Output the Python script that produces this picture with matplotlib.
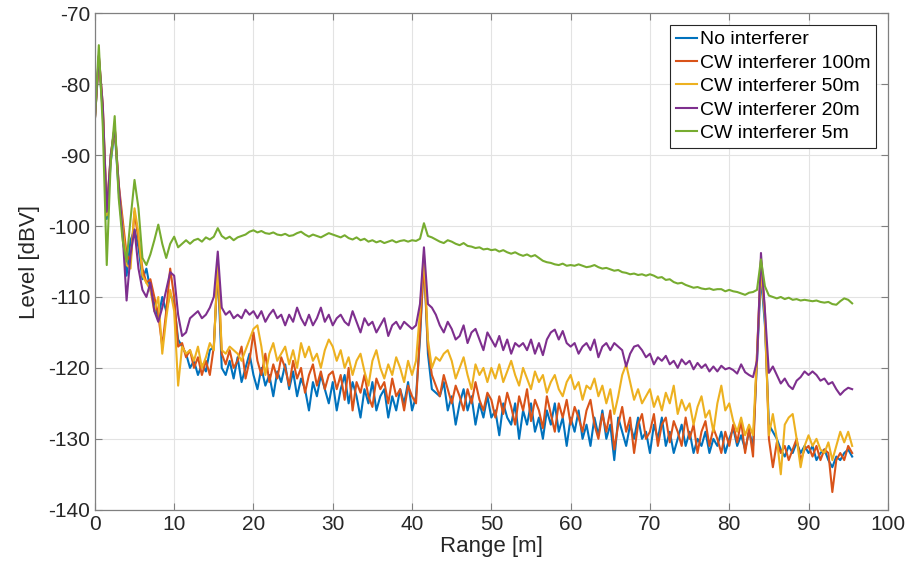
import numpy as np
import matplotlib
matplotlib.use("Agg")
import matplotlib.pyplot as plt

plt.rcParams["axes.unicode_minus"] = False

# range bins, 0.5 m spacing
range_m = np.arange(0, 96, 0.5)

no_interf = [
    -85, -76.5, -84, -99, -91, -86.5, -95, -101, -107, -102, -100.5, -103, -107.5, -106, -109, -111, -113, -110, -112, -109.5,
    -111, -116, -117, -118, -120, -119, -121, -119.5, -120.5, -117.5, -117, -106, -120, -121, -119, -121.5, -118.5, -122, -120, -118,
    -121, -123, -120, -122.5, -121, -124, -120.5, -122, -119.5, -123, -120.5, -124, -121.5, -123, -126, -122, -124, -121, -123, -125,
    -122, -126, -123, -121, -125, -122, -124, -127, -123, -125, -122, -126, -124, -123, -127, -124, -126, -123, -125, -122,
    -126, -124, -116, -104.5, -118, -123, -123.5, -124, -122, -126, -124, -128, -125, -123, -126, -124, -128, -125, -127, -124,
    -127, -126, -129.5, -125, -127, -128, -125, -130, -126, -128, -125, -129, -127, -130, -126, -128, -125, -129, -127, -131,
    -127, -129, -126, -130, -128, -131, -127, -129.5, -126, -130, -128, -133, -127, -129, -131, -128, -130, -127, -130, -129,
    -132, -128, -130, -127, -131, -129, -132, -130, -128, -131, -129, -132, -130, -131, -129, -132, -130, -131, -129, -132,
    -130, -128.5, -131, -129.5, -131.5, -129, -131, -119, -107, -114, -128, -129, -130, -131.5, -132.5, -131, -132, -130.5, -132, -131,
    -132, -131, -133, -132, -131.5, -133, -134, -132.5, -133, -132, -131.5, -132.5,
]

cw_100m = [
    -85, -76, -83, -98, -90, -86, -94, -99, -104, -105, -98, -102, -106, -108, -107.5, -110, -112.5, -117, -112, -106,
    -110, -117, -116.5, -118.5, -117.5, -120, -118.5, -121, -119, -121, -117, -105.5, -118, -119.5, -117.5, -120, -119, -117, -121.5, -119,
    -115, -119, -121, -118, -122, -119.5, -121.5, -118.5, -120, -122.5, -119, -121.5, -120, -123.5, -121, -119.5, -122.5, -120.5, -123, -121,
    -120.5, -123, -121, -124.5, -120, -126, -122, -123.5, -121, -124, -125.5, -121.5, -123, -122, -125, -121.5, -124, -123, -126, -122.5,
    -124, -125, -115, -105, -117, -121, -122.5, -124, -121, -123, -125, -122.5, -124, -126, -123, -125, -122, -124.5, -126, -123.5,
    -124.5, -127, -124, -126.5, -123.5, -125.5, -128, -124, -126, -123, -127.5, -124.5, -126, -128.5, -124, -126.5, -129, -125, -127, -124.5,
    -128, -125.5, -127, -129, -126, -124.5, -128, -130, -126.5, -129, -126, -131.5, -128, -125.5, -129, -127, -132, -128, -126.5, -130,
    -129, -126.5, -131, -128, -127, -130.5, -127.5, -129, -131, -127, -130, -128, -132, -129, -127.5, -131, -128.5, -130, -132, -129,
    -131, -128, -130.5, -127.5, -132, -128.5, -132.5, -118, -105, -112, -130, -134, -130.5, -132, -131, -133, -131.5, -130, -133, -131.5,
    -131, -132.5, -131, -133, -131.5, -132, -137.5, -133, -132, -133, -131, -132,
]

cw_50m = [
    -85, -76.5, -83.5, -98.5, -90.5, -86, -94.5, -100, -105.5, -106, -97.5, -101, -107, -108, -109, -112, -110, -118, -113, -109,
    -112, -122.5, -117, -118, -117.5, -119, -117, -120, -118.5, -116.5, -117.5, -104.8, -117.5, -118, -117, -117.5, -118, -119, -117.5, -116,
    -114.5, -114, -117, -121, -118, -116.5, -119, -118, -117, -119.5, -117.5, -120, -116.5, -118.5, -117, -119, -118, -120, -117.5, -116,
    -117, -119, -117.5, -120, -118.5, -121, -119, -118, -120.5, -122.5, -119, -117.5, -120, -121.5, -119.5, -121, -118.5, -120, -122, -119,
    -121, -119, -112, -104, -116, -120, -118.5, -119, -118, -117.5, -119, -121.5, -120, -118.5, -121, -123, -119.5, -121, -120, -122,
    -120, -121.5, -119.5, -122, -120.5, -119, -121, -122.5, -120, -121.5, -123, -120.5, -122, -121, -123.5, -122, -121, -123, -124, -122,
    -121, -123, -122, -124.5, -122.5, -123, -121.5, -124, -122.5, -125, -123, -126.5, -124, -121, -119.5, -122, -124.5, -123, -125, -124,
    -123, -125.5, -124, -126, -123.5, -125, -122.5, -126.5, -124.5, -126, -125, -128, -125.5, -124, -127, -126, -129, -125, -122.5, -126,
    -125, -127.5, -129, -127, -129.5, -128, -129.5, -118, -106, -113, -129.5, -126.5, -130, -135, -128, -127, -126.5, -130, -134, -131,
    -129.5, -131, -130, -131.5, -132, -130.5, -133, -131, -129, -130.5, -129, -131,
]

cw_20m = [
    -85, -76, -83, -98, -90, -86, -94, -101, -110.5, -104, -100.5, -106, -109, -110, -108, -112, -113.5, -111.5, -109, -106.5,
    -107, -112.5, -115.5, -115, -113, -112.5, -112, -113, -112.5, -111.5, -110, -103.6, -111.5, -112.5, -112, -113, -112.5, -113, -111.8, -112.5,
    -112, -113, -112, -113.5, -112.5, -111.8, -113, -112.5, -114, -112.5, -113.5, -111.5, -113, -114, -112.5, -114, -113, -111.5, -113.5, -112.5,
    -114, -113, -112.5, -113.5, -114, -112, -113.5, -115, -113, -114, -113.5, -115, -114, -113, -115.5, -114, -113.5, -114.5, -113.5, -114,
    -114.5, -114, -111, -103, -111, -111.5, -112.5, -114, -115, -113.5, -114.5, -116, -115.5, -114, -116.5, -115, -114.5, -116, -117.5, -115,
    -116, -117, -115.5, -117.5, -116, -118, -116.5, -117, -116.5, -117.5, -116, -118, -116.5, -118.2, -116, -115, -114.6, -116, -114.8, -116.5,
    -117, -116.5, -118, -117, -116.5, -117.5, -116, -118.5, -117, -116.5, -117.5, -116.5, -117, -117.5, -119.8, -118, -117, -116.8, -117.5, -118.5,
    -118, -119.5, -118.5, -119, -118.3, -119.5, -119, -120, -118.8, -119.5, -119, -120.2, -119.3, -120, -119.5, -120.5, -119.8, -120.5, -119.7, -120.2,
    -120, -120.3, -120.8, -119.5, -120.6, -121, -121.3, -119, -103.8, -112, -120.7, -119.8, -121, -122.2, -121.5, -122.5, -123, -121.8, -121.3, -120.5,
    -121, -120.5, -121, -121.8, -121.5, -122.3, -122, -123, -123.8, -123.2, -122.8, -123,
]

cw_5m = [
    -85, -74.5, -86, -105.5, -91, -84.5, -96, -102, -105, -99, -93.5, -97.5, -104.5, -105.5, -104, -102, -99.8, -102.5, -104.5, -102.5,
    -101.5, -103, -102.5, -102, -102.5, -102, -101.8, -102.2, -101.6, -101.9, -101.5, -100.3, -101.4, -101.8, -101.5, -102, -101.6, -101.4, -101.2, -100.8,
    -100.6, -100.9, -100.7, -101, -101.1, -100.9, -101.2, -101.3, -101.1, -101.4, -101.3, -101, -100.8, -101.2, -101.5, -101.2, -101.4, -101.6, -101.3, -101,
    -101.2, -101.4, -101.6, -101.3, -101.7, -101.9, -101.6, -102, -101.8, -102.2, -102, -102.3, -102.1, -102.4, -102.2, -102, -102.3, -102.1, -102, -102.2,
    -102, -102.1, -101.8, -99.6, -101.4, -101.6, -101.9, -102.2, -102.4, -102, -102.2, -102.5, -102.7, -102.4, -102.8, -102.9, -103.1, -103, -103.3, -103.2,
    -103.4, -103.3, -103.6, -103.4, -103.7, -103.9, -103.7, -104, -104.2, -104, -104.3, -104.1, -104.5, -104.9, -105.1, -105.2, -105.4, -105.5, -105.3, -105.6,
    -105.5, -105.6, -105.4, -105.6, -105.8, -105.7, -105.5, -105.8, -106, -105.9, -106.1, -106.3, -106.2, -106.5, -106.6, -106.8, -106.7, -106.9, -106.8, -107,
    -106.8, -107, -107.3, -107.2, -107.6, -107.5, -107.9, -108.1, -108, -108.3, -108.5, -108.7, -108.6, -108.8, -108.9, -108.8, -109, -108.9, -108.9, -109.2,
    -109, -109.2, -109.3, -109.5, -109.7, -109.4, -109.3, -109, -104.7, -108.5, -109.8, -110, -110.2, -110, -110.3, -110.1, -110.4, -110.3, -110.5, -110.4,
    -110.5, -110.6, -110.5, -110.7, -110.8, -110.7, -111, -111.1, -110.6, -110.2, -110.4, -110.9,
]

labels = ["No interferer", "CW interferer 100m", "CW interferer 50m",
          "CW interferer 20m", "CW interferer 5m"]
colors = ["#0072BD", "#D95319", "#EDB120", "#7E2F8E", "#77AC30"]

font = "Liberation Sans"

fig = plt.figure(figsize=(9.21, 5.76), dpi=100)
ax = fig.add_axes([0.103, 0.115, 0.861, 0.862])

for y, lab, c in zip([no_interf, cw_100m, cw_50m, cw_20m, cw_5m], labels, colors):
    ax.plot(range_m, y, color=c, linewidth=1.5, label=lab)

ax.set_xlim(0, 100)
ax.set_ylim(-140, -70)
ax.set_xticks(np.arange(0, 101, 10))
ax.set_yticks(np.arange(-140, -69, 10))
ax.grid(True, color="#e3e3e3", linewidth=0.8)
ax.set_axisbelow(True)
for s in ax.spines.values():
    s.set_color("#808080")
    s.set_linewidth(0.9)
ax.tick_params(direction="in", top=True, right=True, colors="#808080",
               labelcolor="#262626", length=5)
for t in ax.get_xticklabels() + ax.get_yticklabels():
    t.set_family(font)
    t.set_fontsize(15)

ax.set_xlabel("Range [m]", family=font, fontsize=16, color="#262626", labelpad=2)
ax.set_ylabel("Level [dBV]", family=font, fontsize=16, color="#262626", labelpad=6)

leg = ax.legend(loc="upper right", prop={"family": font, "size": 14},
                handlelength=1.1, handletextpad=0.15, labelspacing=0.3,
                borderpad=0.3, borderaxespad=0.6, fancybox=False, framealpha=1)
leg.get_frame().set_edgecolor("#262626")
leg.get_frame().set_linewidth(0.8)

fig.savefig("out.png", dpi=100)
